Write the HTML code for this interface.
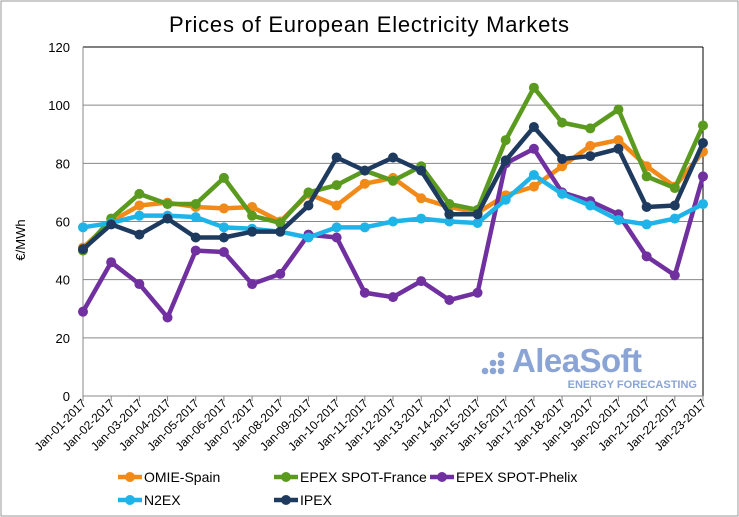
<!DOCTYPE html>
<html><head><meta charset="utf-8"><style>
body{margin:0;background:#fff;font-family:"Liberation Sans",sans-serif}
#wrap{position:relative;width:739px;height:517px;overflow:hidden}
</style></head><body>
<div id="wrap">
<svg id="chart" width="739" height="517"></svg>
</div>
<script>
const categories=["Jan-01-2017","Jan-02-2017","Jan-03-2017","Jan-04-2017","Jan-05-2017","Jan-06-2017","Jan-07-2017","Jan-08-2017","Jan-09-2017","Jan-10-2017","Jan-11-2017","Jan-12-2017","Jan-13-2017","Jan-14-2017","Jan-15-2017","Jan-16-2017","Jan-17-2017","Jan-18-2017","Jan-19-2017","Jan-20-2017","Jan-21-2017","Jan-22-2017","Jan-23-2017"];
const omie=[51,60,65.5,66.5,65,64.5,65,60,69.5,65.5,73,75,68,65,63,69,72,79,86,88,79,72,84];
const epexFrance=[50,61,69.5,66,66,75,62,59.5,70,72.5,77.5,74,79,66,64,88,106,94,92,98.5,75.5,71.5,93];
const phelix=[29,46,38.5,27,50,49.5,38.5,42,55.5,54.5,35.5,34,39.5,33,35.5,80,85,70,67,62.5,48,41.5,75.5];
const n2ex=[58,59.5,62,62,61.5,58,57.5,56.5,54.5,58,58,60,61,60,59.5,67.5,76,69.5,65.5,60.5,59,61,66];
const ipex=[50.5,59,55.5,61,54.5,54.5,56.5,56.5,65.5,82,77.5,82,77.5,62.5,62.5,81,92.5,81.5,82.5,85,65,65.5,87];
const yTicks=[0,20,40,60,80,100,120];
const seriesNames=["OMIE-Spain","EPEX SPOT-France","EPEX SPOT-Phelix","N2EX","IPEX"];
const seriesColors=["#f28a1a","#5a9a1f","#7030a0","#1fb4e8","#1f3a5f"];
const seriesData=[omie,epexFrance,phelix,n2ex,ipex];

const NS="http://www.w3.org/2000/svg";
const svg=document.getElementById('chart');
const L=83,R=703,T=47,B=396;
function x(i){return L+i*(R-L)/(categories.length-1);}
function y(v){return B-(v/120)*(B-T);}
function mk(tag,attrs,parent){const e=document.createElementNS(NS,tag);for(const k in attrs)e.setAttribute(k,attrs[k]);(parent||svg).appendChild(e);return e;}

const frame=mk('rect',{x:1,y:1,width:737,height:515,fill:'#fff',stroke:'#999','stroke-width':1});


const title=mk('text',{x:369,y:32,'text-anchor':'middle','font-size':22,fill:'#000',textLength:400});
title.textContent='Prices of European Electricity Markets';



yTicks.forEach(t=>{
  const g=mk('line',{x1:L,x2:R,y1:y(t),y2:y(t),stroke:t===120?'#000':'#888','stroke-width':1});
  
  
  const lb=mk('text',{x:L-13,y:y(t)+5,'text-anchor':'end','font-size':13,fill:'#000'});
  lb.textContent=t;
  
  
});
const rb=mk('line',{x1:R,x2:R,y1:T,y2:B,stroke:'#000','stroke-width':1});


const ya=mk('line',{x1:L,x2:L,y1:T,y2:B+5,stroke:'#888'});


const xa=mk('line',{x1:L,x2:R,y1:B,y2:B,stroke:'#888'});


const yt=mk('text',{x:25,y:240,'text-anchor':'middle','font-size':13,transform:'rotate(-90 25 240)'});
yt.textContent='€/MWh';



categories.forEach((c,i)=>{
  const tk=mk('line',{x1:x(i),x2:x(i),y1:B,y2:B+5,stroke:'#888'});
  
  
  const lb=mk('text',{x:x(i)+4,y:B+8,'text-anchor':'end','font-size':12,transform:`rotate(-45 ${x(i)+4} ${B+8})`});
  lb.textContent=c;
  
  
});

const wm=mk('g',{});


[[483,371],[491,371],[499,371],[491,363],[499,363],[499,355]].forEach(p=>mk('circle',{cx:p[0]+2,cy:p[1],r:3.3,fill:'#8aa4d6'},wm));
const wt=mk('text',{x:512,y:372,'font-size':33,'font-weight':'bold',fill:'#8aa4d6',textLength:130},wm);wt.textContent='AleaSoft';
const wt2=mk('text',{x:697,y:388,'text-anchor':'end','font-size':11,'font-weight':'bold',fill:'#8aa4d6'},wm);wt2.textContent='ENERGY FORECASTING';

seriesData.forEach((d,si)=>{
  const g=mk('g',{});
  
  
  const pl=mk('polyline',{points:d.map((v,i)=>x(i)+','+y(v)).join(' '),fill:'none',stroke:seriesColors[si],'stroke-width':4.5,'stroke-linejoin':'round'},g);
  
  
  d.forEach((v,i)=>{
    const c=mk('circle',{cx:x(i),cy:y(v),r:5,fill:seriesColors[si]},g);
    
    
  });
});

const legendPos=[[144,477],[300,477],[456,477],[144,500],[300,500]];
seriesNames.forEach((n,i)=>{
  const g=mk('g',{});
  
  
  const [lx,ly]=legendPos[i];
  mk('line',{x1:lx-26,x2:lx-2,y1:ly,y2:ly,stroke:seriesColors[i],'stroke-width':4.5},g);
  mk('circle',{cx:lx-14,cy:ly,r:5,fill:seriesColors[i]},g);
  const t=mk('text',{x:lx,y:ly+5,'font-size':14},g);t.textContent=n;
});
</script>
</body></html>
